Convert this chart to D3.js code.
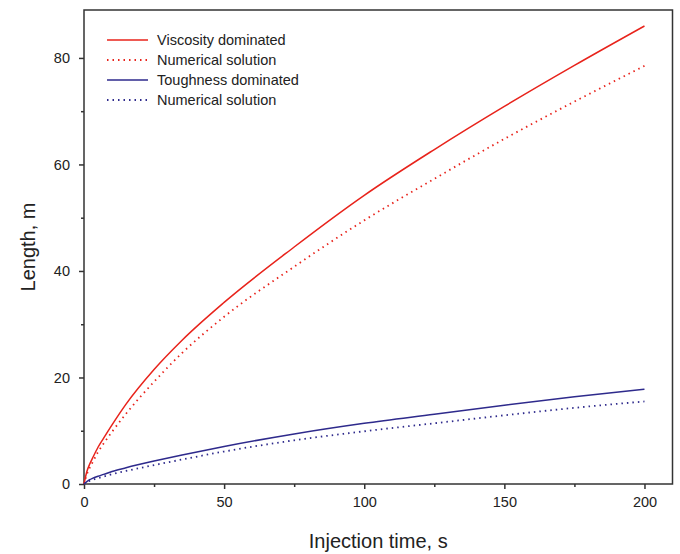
<!DOCTYPE html>
<html>
<head>
<meta charset="utf-8">
<script src="https://cdn.jsdelivr.net/npm/d3@7"></script>
<style>
  body { margin: 0; background: #fff; }
  text { font-family: "Liberation Sans", Arial, sans-serif; fill: #222; }
</style>
</head>
<body>
<svg width="680" height="554"></svg>
<script>
// data
const time = [0, 1, 2, 3, 5, 7, 10, 15, 25, 35, 50, 75, 100, 125, 150, 175, 200];
const viscosity = [0, 2.3, 3.7, 4.8, 6.9, 8.6, 11.1, 15.0, 21.5, 27.0, 34.1, 44.5, 54.2, 62.8, 70.9, 78.6, 86.0];
const viscosityNum = [0, 1.8, 3.0, 4.0, 6.0, 7.6, 9.8, 13.2, 19.2, 24.6, 31.4, 40.8, 49.5, 57.3, 64.8, 71.8, 78.5];
const toughness = [0, 0.45, 0.8, 1.05, 1.45, 1.8, 2.35, 3.05, 4.3, 5.45, 7.05, 9.4, 11.4, 13.1, 14.8, 16.4, 17.8];
const toughnessNum = [0, 0.35, 0.6, 0.8, 1.1, 1.4, 1.85, 2.45, 3.55, 4.6, 6.1, 8.2, 9.9, 11.4, 12.9, 14.3, 15.5];

const xMajor = [0, 50, 100, 150, 200], xMinor = [25, 75, 125, 175];
const yMajor = [0, 20, 40, 60, 80], yMinor = [10, 30, 50, 70];

const series = [
  {name: "Viscosity dominated", values: viscosity, color: "#e8231b", dash: null},
  {name: "Numerical solution", values: viscosityNum, color: "#e8231b", dash: "1.5,4"},
  {name: "Toughness dominated", values: toughness, color: "#2e2a8c", dash: null},
  {name: "Numerical solution", values: toughnessNum, color: "#2e2a8c", dash: "1.5,4"}
];

const svg = d3.select('svg')
const plotLeft = 84, plotRight = 672.5, plotTop = 10, plotBottom = 484;

const x = d3.scaleLinear().domain([0, 210]).range([plotLeft, plotRight]);
const y = d3.scaleLinear().domain([0, 89]).range([plotBottom, plotTop]);

// x axis
svg.append("g")
    .attr("transform", `translate(0, ${plotBottom})`)
    .call(d3.axisBottom(x).tickValues(xMajor).tickSize(5).tickSizeOuter(0).tickPadding(8))
    .call(g => g.select(".domain").remove())
    .call(g => g.selectAll("text").attr("font-size", "14.5px").style("font-family", null))
svg.append("g")
    .attr("transform", `translate(0, ${plotBottom})`)
    .call(d3.axisBottom(x).tickValues(xMinor).tickSize(3).tickFormat(""))
    .call(g => g.select(".domain").remove())

// y axis
svg.append("g")
    .attr("transform", `translate(${plotLeft}, 0)`)
    .call(d3.axisLeft(y).tickValues(yMajor).tickSize(5).tickSizeOuter(0).tickPadding(9))
    .call(g => g.select(".domain").remove())
    .call(g => g.selectAll("text").attr("font-size", "14.5px").style("font-family", null))
svg.append("g")
    .attr("transform", `translate(${plotLeft}, 0)`)
    .call(d3.axisLeft(y).tickValues(yMinor).tickSize(3).tickFormat(""))
    .call(g => g.select(".domain").remove())

svg.selectAll(".tick line").attr("stroke", "#333").attr("stroke-width", 1.5)

// frame
svg.append("rect")
    .attr("x", plotLeft)
    .attr("y", plotTop)
    .attr("width", plotRight - plotLeft)
    .attr("height", plotBottom - plotTop)
    .attr("fill", "none")
    .attr("stroke", "#333")
    .attr("stroke-width", 1.5)

// curves
const line = d3.line()
    .x((d, i) => x(time[i]))
    .y(d => y(d))
    .curve(d3.curveMonotoneX)

series.forEach(s => {
  svg.append("path")
      .datum(s.values)
      .attr("d", line)
      .attr("fill", "none")
      .attr("stroke", s.color)
      .attr("stroke-width", s.dash ? 1.8 : 1.5)
      .attr("stroke-dasharray", s.dash)
});

// legend
const legend = svg.append("g")
series.forEach((s, i) => {
  const ly = 40 + i * 20;
  legend.append("line")
      .attr("x1", 107).attr("x2", 148)
      .attr("y1", ly).attr("y2", ly)
      .attr("stroke", s.color)
      .attr("stroke-width", s.dash ? 1.8 : 1.5)
      .attr("stroke-dasharray", s.dash)
  legend.append("text")
      .attr("x", 157)
      .attr("y", ly)
      .attr("dy", "0.35em")
      .attr("font-size", "14.5px")
      .text(s.name)
});

// axis titles
svg.append("text")
    .attr("x", (plotLeft + plotRight) / 2)
    .attr("y", 548)
    .attr("text-anchor", "middle")
    .attr("font-size", "20px")
    .text("Injection time, s")

svg.append("text")
    .attr("transform", "translate(35, 247) rotate(-90)")
    .attr("text-anchor", "middle")
    .attr("font-size", "20px")
    .text("Length, m")
</script>
</body>
</html>
